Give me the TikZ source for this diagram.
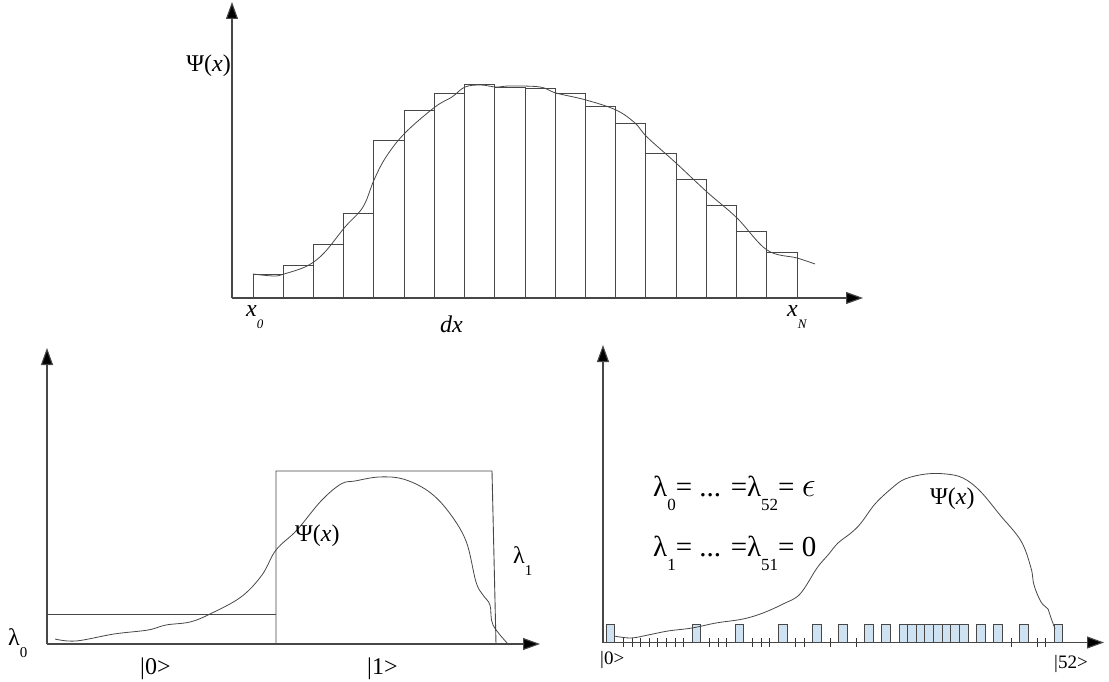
\documentclass[tikz,border=0pt]{standalone}
\usepackage{fontspec}
\usepackage{graphicx}
\setmainfont{Liberation Serif}
\usetikzlibrary{arrows.meta}

\definecolor{barblue}{RGB}{206,226,242}
\newcommand{\lowsub}[2][13]{\raisebox{-0.5em}{\fontsize{#1}{#1}\selectfont #2}}

\begin{document}
\begin{tikzpicture}[
  x=1pt, y=-1pt,
  axis/.style={draw=black!72, line width=1.1pt, -{Triangle[length=17pt,width=12pt,fill=black]}},
  bin/.style={draw=black!72, line width=0.9pt},
  ket/.style={draw=black!72, line width=0.9pt, fill=barblue},
  wave/.style={draw=black!72, line width=0.8pt},
  tick/.style={draw=black!80, line width=0.7pt},
  lbl/.style={font=\fontsize{24}{28}\selectfont, inner sep=0pt},
  big/.style={font=\fontsize{29}{33}\selectfont, inner sep=0pt},
  small/.style={font=\fontsize{19}{22}\selectfont, inner sep=0pt}
]
\useasboundingbox (0,0) rectangle (1109,682);

% top: the wave function cut into dx bins
\coordinate (o1) at (232,298);
\coordinate (y1) at (232,2);
\coordinate (x1) at (863,298);
\foreach \h [count=\i from 0] in {274,265,244,213,140,110,93,84,87,88,93,106,123,153,179,205,231,252}
  \draw[bin] ({253+\i*30.22},298) rectangle ({253+(\i+1)*30.22},\h);
\draw[axis] (o1) -- (y1);
\draw[axis] (o1) -- (x1);
\draw[wave] plot[smooth, tension=0.6] coordinates {(253,274) (274,276) (284,274) (307,266) (324,253) (345,227) (363,207) (374,180) (386,157) (405,133) (435,107) (452,97) (465,87) (481,85) (496,87) (510,86) (540,87) (556,93) (586,100) (616,110) (635,123) (647,137) (676,163) (707,192) (737,218) (767,250) (797,258) (815,264)};

\node[lbl, anchor=base east] (psitop) at (231,72) {Ψ(\textit{x})};
\node[lbl, anchor=base west] (xzero) at (246,316) {\textit{x}\lowsub{\textit{0}}};
\node[lbl, anchor=base west] (dx) at (440,332) {\textit{dx}};
\node[lbl, anchor=base west] (xN) at (787,316) {\textit{x}\lowsub{\textit{N}}};

% bottom left: two kets |0> and |1>
\coordinate (o2) at (47,644);
\coordinate (y2) at (47,348);
\coordinate (x2) at (540,644);
\draw[bin] (47,614.5) -- (276,614.5);
\draw[bin] (276,644) -- (276,471) -- (492,471) -- (496,644);
\draw[axis] (o2) -- (y2);
\draw[axis] (o2) -- (x2);
\draw[wave] plot[smooth, tension=0.6] coordinates {(55,639) (76,641) (114,634) (148,630) (166,625) (190,622) (210,614) (241,597) (262,575) (276,550) (297,530) (321,501) (341,484) (355,481) (379,477) (403,479) (428,491) (448,511) (466,541) (476,582) (483,595) (490,605) (493,625) (509,645)};

\node[lbl, anchor=base west] (lamzero) at (8,645) {λ\lowsub[15]{0}};
\node[lbl, anchor=base west] (lamone) at (513,563) {λ\lowsub[15]{1}};
\node[lbl, anchor=base west] (ketzero) at (140,674) {|0>};
\node[lbl, anchor=base west] (ketone) at (367,674) {|1>};
\node[lbl, anchor=base west] (psileft) at (295,541) {Ψ(\textit{x})};

% bottom right: 53 kets, most with lambda = 0
\coordinate (o3) at (603,642.5);
\coordinate (y3) at (603,345);
\coordinate (x3) at (1104,642.5);
\foreach \k in {0,10,15,20,24,27,30,32,34,35,36,37,38,39,40,41,43,45,48,52}
  \draw[ket] ({606+\k*8.62},642.5) rectangle ++(8.62,-18.5);
\foreach \k in {2,...,9,12,13,14,17,18,19,22,23,26,29,47,50,51}
  \draw[tick] ({606+\k*8.62},638) -- ++(0,9);
\draw[axis] (o3) -- (y3);
\draw[axis] (o3) -- (x3);
\draw[wave] plot[smooth, tension=0.6] coordinates {(614,636) (631,638) (648,635) (668,631) (692,628) (716,623) (743,619) (763,613) (783,604) (800,594) (817,568) (828,555) (838,543) (851,533) (861,523) (875,504) (892,488) (905,479) (926,474) (946,474) (963,478) (980,491) (1000,515) (1021,541) (1031,568) (1034,585) (1041,602) (1048,609) (1050,615) (1055,629)};

\node[big, anchor=base west] (eqeps) at (653,496) {λ\lowsub[17]{0}= ... =λ\lowsub[17]{52}= \scalebox{1.4}{$\epsilon$}};
\node[big, anchor=base west] (eqzero) at (653,556) {λ\lowsub[17]{1}= ... =λ\lowsub[17]{51}= 0};
\node[lbl, anchor=base west] (psiright) at (930,504) {Ψ(\textit{x})};
\node[small, anchor=base west] (ketfirst) at (600,664) {|0>};
\node[small, anchor=base west] (ketlast) at (1054,668) {|52>};

\end{tikzpicture}
\end{document}
